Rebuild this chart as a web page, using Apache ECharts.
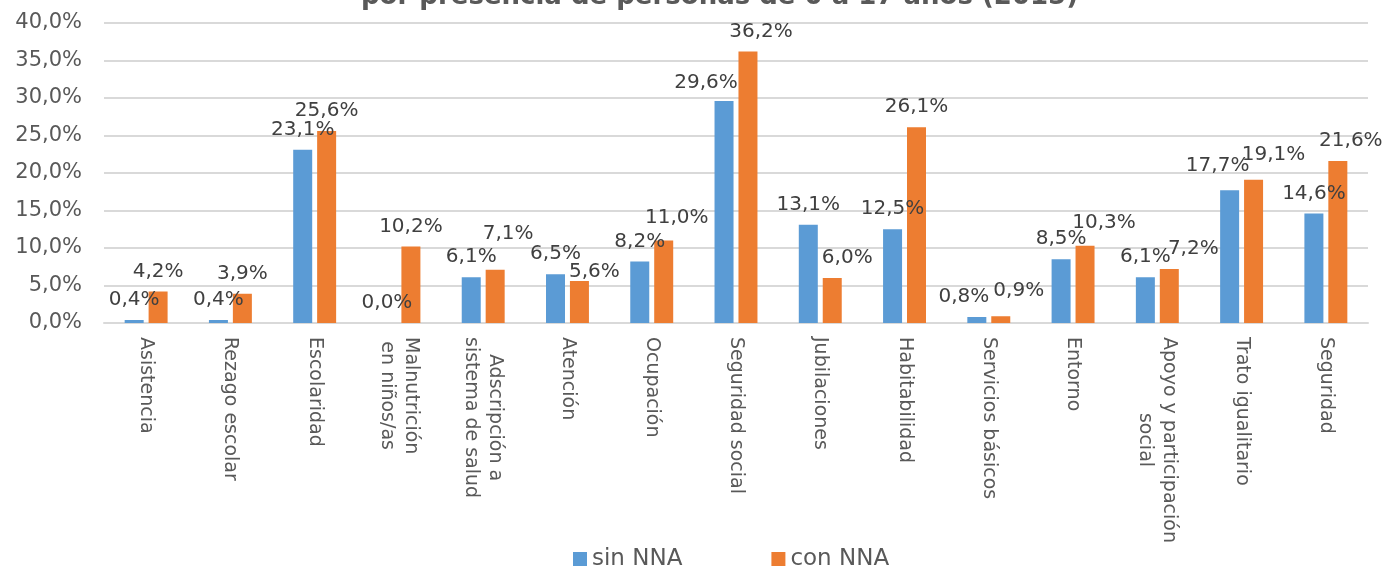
<!DOCTYPE html>
<html>
<head>
<meta charset="utf-8">
<script src="https://cdn.jsdelivr.net/npm/echarts@6/dist/echarts.min.js"></script>
<style>
html,body{margin:0;padding:0;background:#fff;}
#chart{width:1387px;height:569px;}
</style>
</head>
<body>
<div id="chart"></div>
<script>
const titleText = 'por presencia de personas de 0 a 17 años (2015)';
const categories = ['Asistencia', 'Rezago escolar', 'Escolaridad', 'Malnutrición\nen niños/as', 'Adscripción a\nsistema de salud', 'Atención', 'Ocupación', 'Seguridad social', 'Jubilaciones', 'Habitabilidad', 'Servicios básicos', 'Entorno', 'Apoyo y participación\nsocial', 'Trato igualitario', 'Seguridad'];
const sinNNA = [0.4, 0.4, 23.1, 0.0, 6.1, 6.5, 8.2, 29.6, 13.1, 12.5, 0.8, 8.5, 6.1, 17.7, 14.6];
const conNNA = [4.2, 3.9, 25.6, 10.2, 7.1, 5.6, 11.0, 36.2, 6.0, 26.1, 0.9, 10.3, 7.2, 19.1, 21.6];
const seriesNames = ['sin NNA', 'con NNA'];
const yTicks = {min: 0, max: 40, interval: 5};

// label nudges (as placed in the original chart), by category index
const labelShiftSin = {7: [-18, 2], 10: [-13, 0], 13: [-12, -4]};
const labelShiftCon = {4: [13, -16], 5: [15, 11], 6: [13, -3], 7: [13, 0], 8: [15, 0], 10: [18, -5], 11: [19, -3], 12: [24, 0], 13: [20, -5], 14: [13, 0]};

const FONT = 'DejaVu Sans';
const pct = v => v.toFixed(1).replace('.', ',') + '%';
const build = (arr, shifts) => arr.map((v, i) => shifts[i] ? {value: v, label: {offset: shifts[i]}} : v);

const chart = echarts.init(document.getElementById('chart'));
chart.setOption({
  animation: false,
  backgroundColor: '#ffffff',
  title: {
    text: titleText,
    left: 361,
    top: -16,
    padding: 0,
    textStyle: {fontFamily: FONT, fontWeight: 'bold', fontSize: 26, color: '#595959'}
  },
  legend: {
    data: seriesNames,
    left: 573,
    top: 547,
    padding: 0,
    itemGap: 89,
    itemWidth: 14,
    itemHeight: 14,
    icon: 'rect',
    textStyle: {fontFamily: FONT, fontSize: 23, color: '#595959', lineHeight: 24}
  },
  grid: {left: 104, right: 19, top: 23, bottom: 246, containLabel: false},
  xAxis: {
    type: 'category',
    data: categories,
    axisLine: {lineStyle: {color: '#d9d9d9', width: 2}},
    axisTick: {show: false},
    axisLabel: {
      interval: 0,
      rotate: -90,
      margin: 14,
      formatter: v => v.split('\n').map(l => '{c|' + l + '}').join('\n'),
      rich: {c: {align: 'center', fontFamily: FONT, fontSize: 19, color: '#595959', lineHeight: 24}}
    }
  },
  yAxis: {
    type: 'value',
    min: yTicks.min,
    max: yTicks.max,
    interval: yTicks.interval,
    axisLine: {show: false},
    axisTick: {show: false},
    splitLine: {lineStyle: {color: '#d9d9d9', width: 2}},
    axisLabel: {fontFamily: FONT, fontSize: 21, color: '#595959', margin: 22, formatter: v => pct(v)}
  },
  series: [
    {
      name: seriesNames[0],
      type: 'bar',
      data: build(sinNNA, labelShiftSin),
      barWidth: 19,
      barGap: '26%',
      itemStyle: {color: '#5b9bd5'},
      label: {show: true, position: 'top', distance: 10, fontFamily: FONT, fontSize: 20, color: '#404040', formatter: p => pct(p.value)}
    },
    {
      name: seriesNames[1],
      type: 'bar',
      data: build(conNNA, labelShiftCon),
      barWidth: 19,
      barGap: '26%',
      itemStyle: {color: '#ed7d31'},
      label: {show: true, position: 'top', distance: 10, fontFamily: FONT, fontSize: 20, color: '#404040', formatter: p => pct(p.value)}
    }
  ]
});
</script>
</body>
</html>
